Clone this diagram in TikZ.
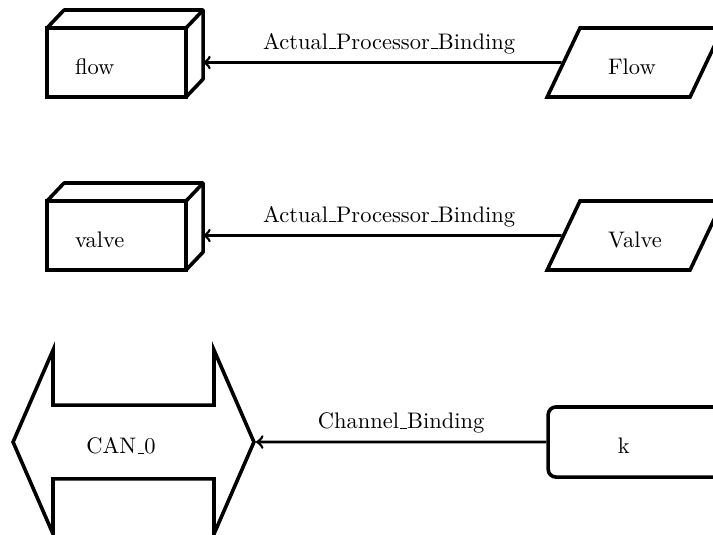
\documentclass[tikz,border=0pt]{standalone}
\usetikzlibrary{shapes.geometric,shapes.arrows}
\newcommand\uscore{\leavevmode\kern.06em\vbox{\hrule width.3em}}
\begin{document}
\begin{tikzpicture}
[x=0.445pt,y=-0.445pt,
 proc/.style={draw,line width=1.6pt,outer sep=0pt,minimum width=61.9pt,minimum height=30.7pt,
   inner xsep=12.5pt,text width=36.9pt,align=left,text height=10.5pt,text depth=0pt},
 impl/.style={draw,line width=1.6pt,trapezium,trapezium left angle=62,trapezium right angle=118,
   trapezium stretches=true,minimum width=78.3pt,minimum height=30.7pt,
   text width=24pt,align=left,text height=10.5pt,text depth=0pt},
 bus/.style={draw,line width=1.6pt,double arrow,double arrow head extend=24.5pt,
   double arrow tip angle=133,minimum height=107.2pt,inner ysep=10.35pt,
   text width=42pt,align=left,text height=10.5pt,text depth=0pt},
 port/.style={draw,line width=1.6pt,rounded corners=3.5pt,minimum width=80pt,minimum height=31.2pt,
   text width=18pt,align=left,text height=10.5pt,text depth=0pt},
 bind/.style={->,line width=1.2pt}]
\useasboundingbox (0,0) rectangle (713,534);
\clip (0,0) rectangle (713,534);

% processors
\node[proc] (flow) at (116.5,62.5) {flow};
\node[proc] (valve) at (116.5,235.5) {valve};
\foreach \p in {flow,valve}{
  \draw[line width=1.6pt,line join=round] (\p.north west) -- ++(7.6pt,8pt)
    -- ([shift={(7.6pt,8pt)}]\p.north east) -- ([shift={(7.6pt,8pt)}]\p.south east)
    -- (\p.south east);
  \draw[line width=1.6pt] (\p.north east) -- ++(7.6pt,8pt);
}

% implementations
\node[impl] (Flow) at (635,62.5) {Flow};
\node[impl] (Valve) at (635,235.5) {Valve};

% bus and port
\node[bus] (can) at (133.5,442) {CAN\uscore 0};
\node[port] (k) at (638,442) {k};

\draw[bind] (Flow.west) -- ([xshift=7.6pt]flow.east)
  node[midway,above,xshift=3pt] {Actual\uscore Processor\uscore Binding};
\draw[bind] (Valve.west) -- ([xshift=7.6pt]valve.east)
  node[midway,above,xshift=3pt] {Actual\uscore Processor\uscore Binding};
\draw[bind] (k.west) -- (can.east)
  node[midway,above] {Channel\uscore Binding};
\end{tikzpicture}
\end{document}
